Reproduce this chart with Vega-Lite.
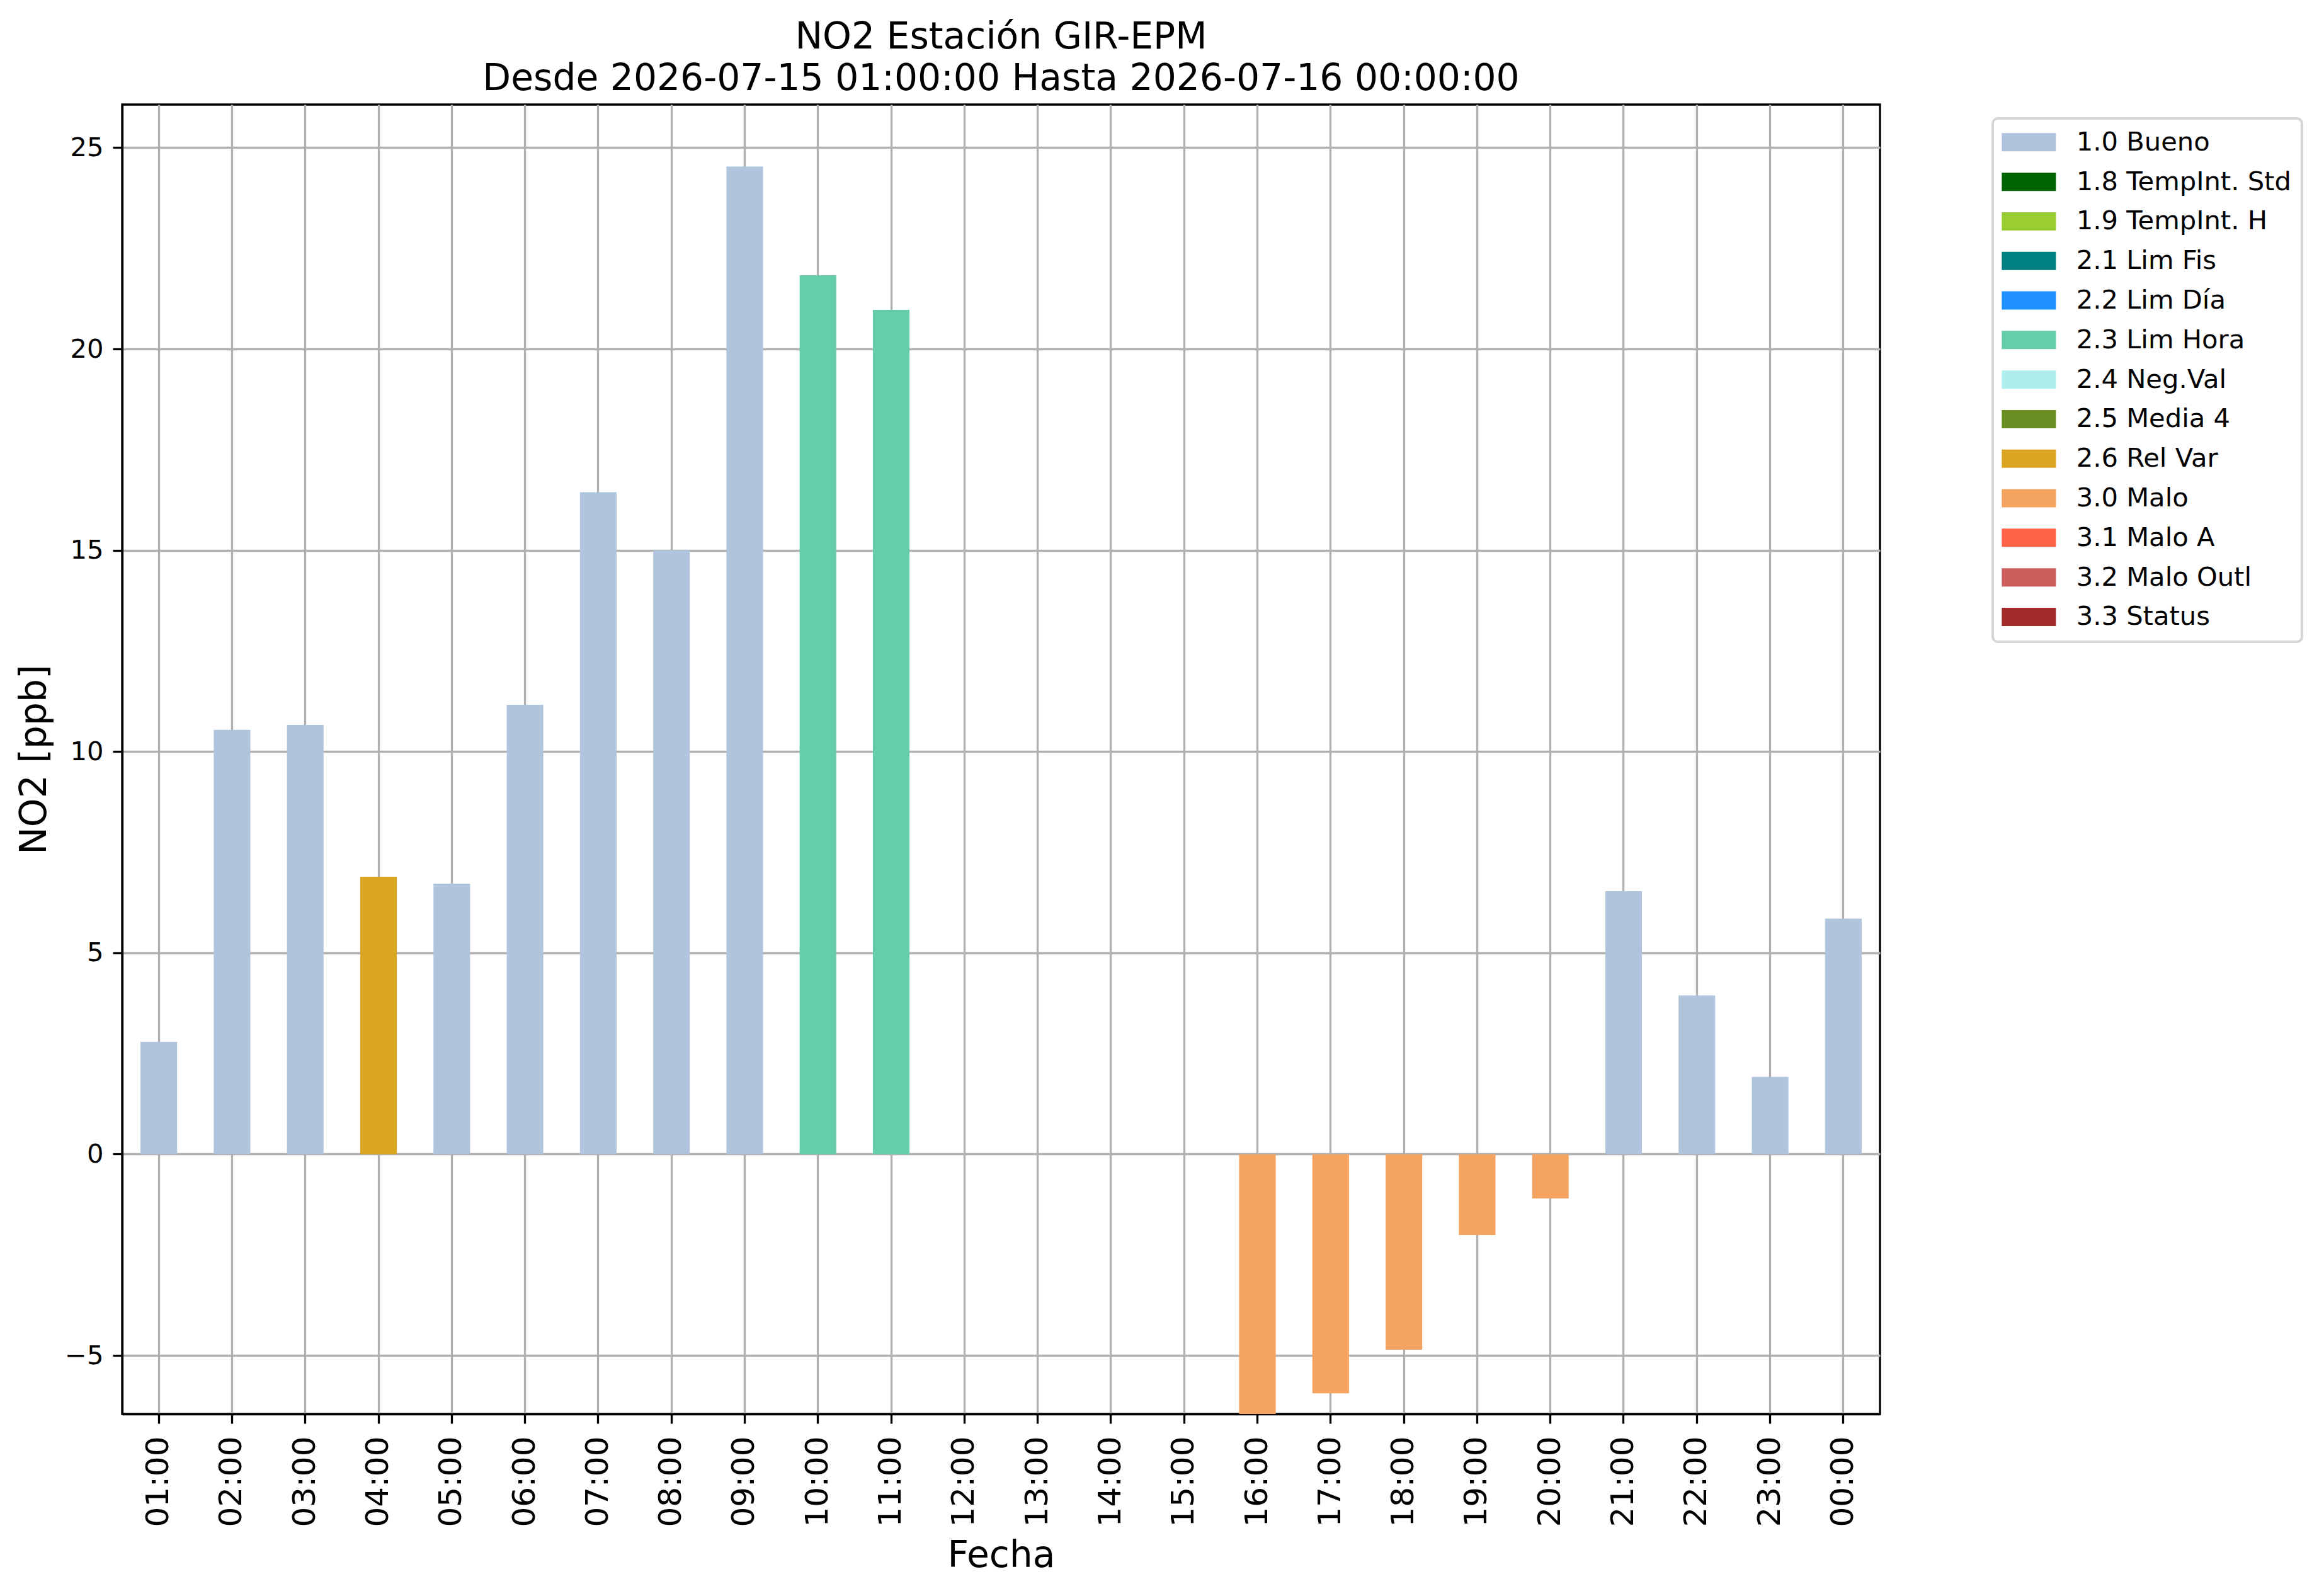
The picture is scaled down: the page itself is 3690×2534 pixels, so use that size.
{
  "$schema": "https://vega.github.io/schema/vega-lite/v6.json",
  "autosize": {"type": "none"},
  "width": 2791,
  "height": 2079,
  "padding": {"left": 194, "top": 166, "right": 705, "bottom": 289},
  "background": "white",
  "title": {
    "text": ["NO2 Estación GIR-EPM", "Desde 2026-07-15 01:00:00 Hasta 2026-07-16 00:00:00"],
    "font": "DejaVu Sans",
    "fontSize": 58.3,
    "fontWeight": "normal",
    "color": "black",
    "anchor": "middle",
    "frame": "group",
    "lineHeight": 66,
    "offset": 11
  },
  "data": {
    "values": [
      {"hora": "01:00", "no2": 2.79, "flag": "1.0 Bueno"},
      {"hora": "02:00", "no2": 10.54, "flag": "1.0 Bueno"},
      {"hora": "03:00", "no2": 10.66, "flag": "1.0 Bueno"},
      {"hora": "04:00", "no2": 6.89, "flag": "2.6 Rel Var"},
      {"hora": "05:00", "no2": 6.72, "flag": "1.0 Bueno"},
      {"hora": "06:00", "no2": 11.16, "flag": "1.0 Bueno"},
      {"hora": "07:00", "no2": 16.44, "flag": "1.0 Bueno"},
      {"hora": "08:00", "no2": 15.0, "flag": "1.0 Bueno"},
      {"hora": "09:00", "no2": 24.53, "flag": "1.0 Bueno"},
      {"hora": "10:00", "no2": 21.83, "flag": "2.3 Lim Hora"},
      {"hora": "11:00", "no2": 20.97, "flag": "2.3 Lim Hora"},
      {"hora": "12:00", "no2": null, "flag": "1.0 Bueno"},
      {"hora": "13:00", "no2": null, "flag": "1.0 Bueno"},
      {"hora": "14:00", "no2": null, "flag": "1.0 Bueno"},
      {"hora": "15:00", "no2": null, "flag": "1.0 Bueno"},
      {"hora": "16:00", "no2": -6.9, "flag": "3.0 Malo"},
      {"hora": "17:00", "no2": -5.94, "flag": "3.0 Malo"},
      {"hora": "18:00", "no2": -4.86, "flag": "3.0 Malo"},
      {"hora": "19:00", "no2": -2.01, "flag": "3.0 Malo"},
      {"hora": "20:00", "no2": -1.1, "flag": "3.0 Malo"},
      {"hora": "21:00", "no2": 6.53, "flag": "1.0 Bueno"},
      {"hora": "22:00", "no2": 3.94, "flag": "1.0 Bueno"},
      {"hora": "23:00", "no2": 1.92, "flag": "1.0 Bueno"},
      {"hora": "00:00", "no2": 5.85, "flag": "1.0 Bueno"}
    ]
  },
  "mark": {"type": "bar", "clip": true},
  "encoding": {
    "x": {
      "field": "hora",
      "type": "nominal",
      "sort": null,
      "scale": {
        "domain": ["01:00", "02:00", "03:00", "04:00", "05:00", "06:00", "07:00", "08:00", "09:00", "10:00", "11:00", "12:00", "13:00", "14:00", "15:00", "16:00", "17:00", "18:00", "19:00", "20:00", "21:00", "22:00", "23:00", "00:00"],
        "paddingInner": 0.5,
        "paddingOuter": 0.25
      },
      "axis": {
        "title": "Fecha",
        "labelAngle": 270,
        "labelAlign": "right",
        "labelBaseline": "middle",
        "labelFontSize": 50,
        "labelPadding": 20,
        "titlePadding": 17,
        "bandPosition": 0.5
      }
    },
    "y": {
      "field": "no2",
      "type": "quantitative",
      "scale": {"domain": [-6.454, 26.07], "nice": false, "zero": false},
      "axis": {
        "title": "NO2 [ppb]",
        "values": [-5, 0, 5, 10, 15, 20, 25],
        "labelFontSize": 41.67,
        "labelPadding": 15,
        "titlePadding": 18
      }
    },
    "y2": {"datum": 0},
    "color": {
      "field": "flag",
      "type": "nominal",
      "scale": {
        "domain": ["1.0 Bueno", "1.8 TempInt. Std", "1.9 TempInt. H", "2.1 Lim Fis", "2.2 Lim Día", "2.3 Lim Hora", "2.4 Neg.Val", "2.5 Media 4", "2.6 Rel Var", "3.0 Malo", "3.1 Malo A", "3.2 Malo Outl", "3.3 Status"],
        "range": ["#b0c4de", "#006400", "#9acd32", "#008080", "#1e90ff", "#66cdaa", "#afeeee", "#6b8e23", "#daa520", "#f4a460", "#ff6347", "#cd5c5c", "#a52a2a"]
      },
      "legend": {
        "title": null,
        "orient": "none",
        "legendX": 2970,
        "legendY": 22,
        "symbolType": "M-1.62,-1H4.31V1H-1.62Z",
        "symbolSize": 841,
        "symbolStrokeWidth": 0,
        "symbolOpacity": 1,
        "labelFont": "DejaVu Sans",
        "labelFontSize": 41.67,
        "labelColor": "black",
        "labelOffset": 74,
        "rowPadding": 19.8,
        "padding": 17,
        "strokeColor": "#d6d6d6",
        "fillColor": "white",
        "cornerRadius": 8,
        "labelLimit": 0,
        "encode": {"legend": {"update": {"strokeWidth": {"value": 4}}}}
      }
    }
  },
  "config": {
    "font": "DejaVu Sans",
    "view": {"stroke": "black", "strokeWidth": 3.3},
    "axis": {
      "labelFont": "DejaVu Sans",
      "labelColor": "black",
      "titleFont": "DejaVu Sans",
      "titleFontSize": 58.3,
      "titleFontWeight": "normal",
      "titleColor": "black",
      "tickColor": "black",
      "tickWidth": 3.3,
      "tickSize": 15,
      "domainColor": "black",
      "domainWidth": 3.3,
      "grid": true,
      "gridColor": "#b0b0b0",
      "gridWidth": 3.3,
      "zindex": 1
    }
  }
}
